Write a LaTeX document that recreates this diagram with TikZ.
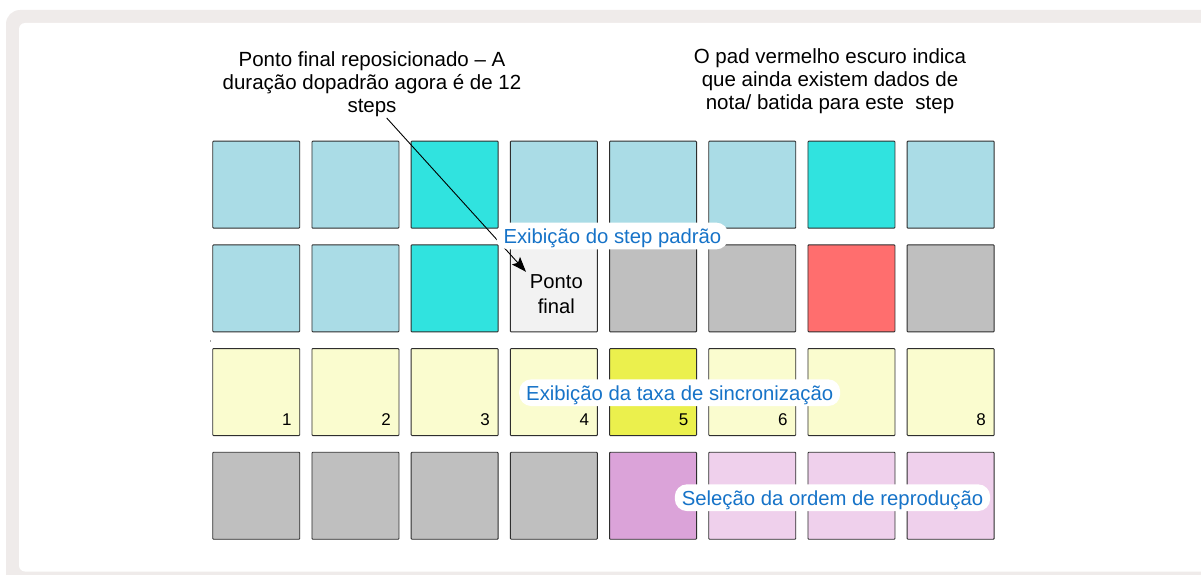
\documentclass[tikz,border=0pt]{standalone}
\usepackage{fontspec}
\setmainfont{Liberation Sans}
\usetikzlibrary{arrows.meta,calc}
\definecolor{framegray}{HTML}{EFEBEA}
\definecolor{padline}{HTML}{2E2E2E}
\definecolor{lblue}{HTML}{AADCE6}
\definecolor{cyanpad}{HTML}{30E3DF}
\definecolor{endpad}{HTML}{F2F2F2}
\definecolor{graypad}{HTML}{BFBFBF}
\definecolor{redpad}{HTML}{FF6E6E}
\definecolor{lyellow}{HTML}{FAFCCF}
\definecolor{yellowpad}{HTML}{EBF04D}
\definecolor{purplepad}{HTML}{DBA3D9}
\definecolor{lpurple}{HTML}{EFD0EC}
\definecolor{labelblue}{HTML}{1673C8}
\begin{document}
\begin{tikzpicture}[x=1pt,y=-1pt,
  pad/.style={draw=padline, line width=0.9pt, fill=#1, minimum width=87pt, minimum height=87pt,
    inner sep=0pt, anchor=north west, rounded corners=0.8pt},
  padnum/.style={font=\fontsize{17}{20}\selectfont, anchor=base east, inner sep=0pt},
  note/.style={font=\fontsize{20.5}{23}\selectfont, align=center, anchor=north, inner sep=0pt},
  tag/.style={fill=white, rounded corners=12pt, text=labelblue, font=\fontsize{20.3}{23}\selectfont,
    text height=14.7pt, text depth=0pt, inner xsep=7pt, inner ysep=6pt},
  pointer/.style={line width=0.9pt, -{Stealth[length=15pt,width=11pt,inset=3pt]}}
]
\useasboundingbox (0,0) rectangle (1201,575);
\begin{scope}
  \clip (0,0) rectangle (1201,575);
  \fill[framegray, rounded corners=14pt] (6,10) rectangle (1240,600);
  \fill[white, rounded corners=6pt] (19,23) rectangle (1230,571.5);
\end{scope}
\fill[gray!70] (209.5,340) rectangle (211,341.5);

% pads
\foreach \r/\colors in {1/{lblue,lblue,cyanpad,lblue,lblue,lblue,cyanpad,lblue},
                        2/{lblue,lblue,cyanpad,endpad,graypad,graypad,redpad,graypad},
                        3/{lyellow,lyellow,lyellow,lyellow,yellowpad,lyellow,lyellow,lyellow},
                        4/{graypad,graypad,graypad,graypad,purplepad,lpurple,lpurple,lpurple}}{
  \foreach \col [count=\c] in \colors {
    \node[pad=\col] (p-\r-\c) at ({212.3+(\c-1)*99.2},{140.7+(\r-1)*103.7}) {};
  }
}

% step numbers
\foreach \c in {1,2,3,4,5,6,8}{
  \node[padnum, xshift=-8.5pt, yshift=11pt] (n-\c) at (p-3-\c.south east) {\c};
}

% end point text
\node[font=\fontsize{20.2}{24.7}\selectfont, align=center, anchor=north, inner sep=0pt] (endtxt)
  at ($(p-2-4.north)+(2.5,30.5)$) {Ponto\\final};

% notes
\node[note] (note1) at (372,51.5) {Ponto final reposicionado – A\\duração dopadrão agora é de 12\\steps};
\node[note] (note2) at (830,48.5) {O pad vermelho escuro indica\\que ainda existem dados de\\nota/ batida para este\ \ step};

% arrow
\coordinate (arrstart) at (386.7,118);
\coordinate (arrtip) at ($(p-2-4.north west)+(16.1,27.4)$);
\draw[pointer] (arrstart) -- (arrtip);

% tags
\node[tag] (tag1) at (612.4,236) {Exibição do step padrão};
\node[tag] (tag2) at (679.7,392.7) {Exibição da taxa de sincronização};
\node[tag] (tag3) at (832.5,497.7) {Seleção da ordem de reprodução};
\end{tikzpicture}
\end{document}
